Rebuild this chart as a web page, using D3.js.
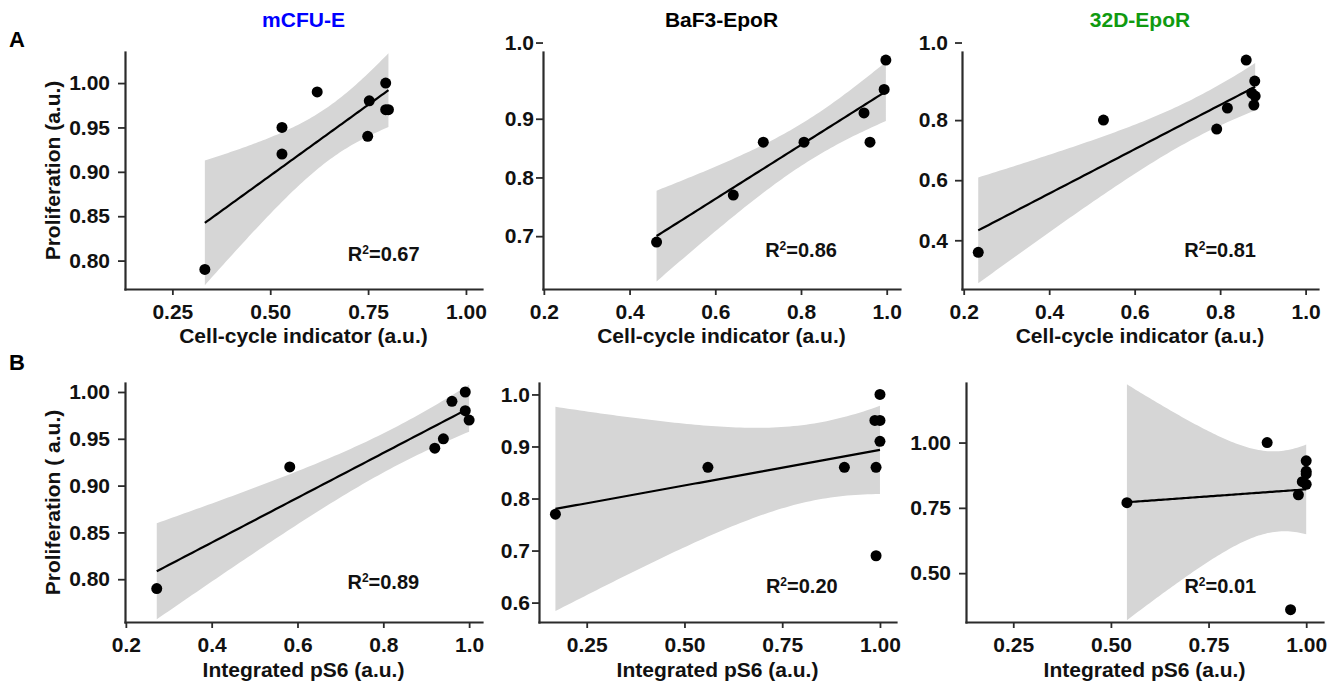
<!DOCTYPE html>
<html>
<head>
<meta charset="utf-8">
<script src="https://cdn.jsdelivr.net/npm/d3@7"></script>
<style>
  body { margin: 0; background: #fff; }
  svg text { font-family: "Liberation Sans", Arial, Helvetica, sans-serif; font-weight: bold; }
</style>
</head>
<body>
<div id="chart"></div>
<script>
// column headers and row letters
var cellLines = ["mCFU-E", "BaF3-EpoR", "32D-EpoR"];
var cellLineColors = ["#0000ff", "#000000", "#109a10"];
var rowLetters = ["A", "B"];
var xTitles = ["Cell-cycle indicator (a.u.)", "Integrated pS6 (a.u.)"];
var yTitles = ["Proliferation (a.u.)", "Proliferation ( a.u.)"];

// row A: cell-cycle indicator vs proliferation
var cycleMcfu = [0.333, 0.530, 0.530, 0.620, 0.753, 0.749, 0.795, 0.795, 0.802];
var prolMcfuA = [0.79, 0.95, 0.92, 0.99, 0.98, 0.94, 1.00, 0.97, 0.97];
var cycleBaf3 = [0.463, 0.642, 0.712, 0.807, 0.947, 0.961, 0.994, 0.998];
var prolBaf3A = [0.69, 0.77, 0.86, 0.86, 0.91, 0.86, 0.95, 1.00];
var cycle32d = [0.234, 0.527, 0.792, 0.817, 0.861, 0.881, 0.874, 0.882, 0.879];
var prol32dA = [0.36, 0.80, 0.77, 0.84, 1.00, 0.93, 0.89, 0.88, 0.85];

// row B: integrated pS6 vs proliferation
var ps6Mcfu = [0.272, 0.582, 0.920, 0.940, 0.960, 0.991, 0.991, 1.000];
var prolMcfuB = [0.79, 0.92, 0.94, 0.95, 0.99, 1.00, 0.98, 0.97];
var ps6Baf3 = [0.170, 0.560, 0.909, 0.990, 0.990, 1.000, 0.987, 1.000, 1.000];
var prolBaf3B = [0.77, 0.86, 0.86, 0.86, 0.69, 1.00, 0.95, 0.95, 0.91];
var ps632d = [0.541, 0.900, 1.000, 1.000, 1.000, 0.990, 1.000, 0.980, 0.960];
var prol32dB = [0.77, 1.00, 0.93, 0.89, 0.88, 0.85, 0.84, 0.80, 0.36];

// R squared labels and where they sit (data units)
var r2Text = ["0.67", "0.86", "0.81", "0.89", "0.20", "0.01"];
var r2X = [0.79, 0.80, 0.80, 0.80, 0.80, 0.78];
var r2Y = [0.807, 0.676, 0.367, 0.797, 0.631, 0.45];

// axis limits and tick labels
var xLimits = [[0.129, 1.041], [0.198, 1.031], [0.196, 1.029], [0.198, 1.030], [0.128, 1.041], [0.129, 1.043]];
var yLimits = [[0.768, 1.035], [0.610, 1.0137], [0.2378, 1.0267], [0.7543, 1.0096], [0.5627, 1.022], [0.313, 1.228]];
var xTicks = [[0.25, 0.5, 0.75, 1], [0.2, 0.4, 0.6, 0.8, 1], [0.2, 0.4, 0.6, 0.8, 1],
              [0.2, 0.4, 0.6, 0.8, 1], [0.25, 0.5, 0.75, 1], [0.25, 0.5, 0.75, 1]];
var yTicks = [[0.8, 0.85, 0.9, 0.95, 1], [0.7, 0.8, 0.9, 1], [0.4, 0.6, 0.8, 1],
              [0.8, 0.85, 0.9, 0.95, 1], [0.6, 0.7, 0.8, 0.9, 1], [0.5, 0.75, 1]];
var xFormats = [".2f", ".1f", ".1f", ".1f", ".2f", ".2f"];
var yFormats = [".2f", ".1f", ".1f", ".2f", ".1f", ".2f"];

var panelX = [cycleMcfu, cycleBaf3, cycle32d, ps6Mcfu, ps6Baf3, ps632d];
var panelY = [prolMcfuA, prolBaf3A, prol32dA, prolMcfuB, prolBaf3B, prol32dB];

// pixel boxes of the six plotting areas
var boxes = [
  {l: 125, r: 482, t: 52, b: 289}, {l: 543, r: 900, t: 52, b: 289}, {l: 962, r: 1318, t: 52, b: 289},
  {l: 125, r: 482, t: 383, b: 622}, {l: 539, r: 896, t: 383, b: 622}, {l: 966, r: 1323, t: 383, b: 622}
];
var yPad = [8, 2, 7, 8, 2, 8];
var liftTop = [0, 17, 17, 0, 0, 0]; // the 1.0 label sits above the axis in two panels

var tTable = {3: 3.182, 4: 2.776, 5: 2.571, 6: 2.447, 7: 2.365, 8: 2.306, 9: 2.262, 10: 2.228, 11: 2.201, 12: 2.179};

function lmBand(xs, ys) {
  var n = xs.length, mx = d3.mean(xs), my = d3.mean(ys);
  var sxx = d3.sum(xs, function(x) { return (x - mx) * (x - mx); });
  var sxy = d3.sum(xs, function(x, i) { return (x - mx) * (ys[i] - my); });
  var b = sxy / sxx, a = my - b * mx;
  var sse = d3.sum(xs, function(x, i) { var e = ys[i] - a - b * x; return e * e; });
  var s = Math.sqrt(sse / (n - 2)), t = tTable[n - 2];
  var lo = d3.min(xs), hi = d3.max(xs);
  return d3.range(80).map(function(i) {
    var x = lo + (hi - lo) * i / 79;
    var f = a + b * x;
    var se = s * Math.sqrt(1 / n + (x - mx) * (x - mx) / sxx);
    return {x: x, fit: f, lo: f - t * se, hi: f + t * se};
  });
}

var svg = d3.select("#chart").append("svg")
    .attr("width", 1341)
    .attr("height", 683);

boxes.forEach(function(box, p) {
  var x = d3.scaleLinear().domain(xLimits[p]).range([box.l, box.r]);
  var y = d3.scaleLinear().domain(yLimits[p]).range([box.b, box.t]);
  var xs = panelX[p], ys = panelY[p];
  var band = lmBand(xs, ys);

  svg.append("clipPath").attr("id", "clip" + p)
    .append("rect")
      .attr("x", box.l).attr("y", box.t)
      .attr("width", box.r - box.l).attr("height", box.b - box.t);

  var g = svg.append("g").attr("clip-path", "url(#clip" + p + ")");

  g.append("path")
    .datum(band)
    .attr("fill", "#d6d6d6")
    .attr("d", d3.area().x(d => x(d.x)).y0(d => y(d.lo)).y1(d => y(d.hi)));

  g.append("path")
    .datum(band)
    .attr("fill", "none")
    .attr("stroke", "#000")
    .attr("stroke-width", 2.2)
    .attr("d", d3.line().x(d => x(d.x)).y(d => y(d.fit)));

  g.selectAll("circle")
    .data(xs)
    .enter().append("circle")
      .attr("cx", d => x(d))
      .attr("cy", (d, i) => y(ys[i]))
      .attr("r", 5.5)
      .attr("fill", "#000");

  var gx = svg.append("g")
    .attr("transform", "translate(0," + box.b + ")")
    .call(d3.axisBottom(x).tickValues(xTicks[p]).tickFormat(d3.format(xFormats[p]))
      .tickSize(6).tickSizeOuter(0).tickPadding(9));

  var gy = svg.append("g")
    .attr("transform", "translate(" + box.l + ",0)")
    .call(d3.axisLeft(y).tickValues(yTicks[p]).tickFormat(d3.format(yFormats[p]))
      .tickSize(7).tickSizeOuter(0).tickPadding(yPad[p]));

  if (liftTop[p]) {
    gy.selectAll(".tick").filter(d => d === 1)
      .attr("transform", d => "translate(0," + (y(d) - liftTop[p]) + ")");
  }

  [gx, gy].forEach(function(ax) {
    ax.select(".domain").attr("stroke", "#2b2b2b").attr("stroke-width", 2.2).attr("stroke-linecap", "square");
    ax.selectAll(".tick line").attr("stroke", "#2b2b2b").attr("stroke-width", 1.8);
    ax.selectAll(".tick text").attr("fill", "#111").style("font-size", "21px");
  });

  var r2 = svg.append("text")
    .attr("x", x(r2X[p]))
    .attr("y", y(r2Y[p]) + 7)
    .attr("text-anchor", "middle")
    .style("font-size", "20px")
    .attr("fill", "#111");
  r2.append("tspan").text("R");
  r2.append("tspan").attr("dy", -7).style("font-size", "12px").text("2");
  r2.append("tspan").attr("dy", 7).text("=" + r2Text[p]);

  var row = Math.floor(p / 3), col = p % 3;
  var cx = (box.l + box.r) / 2;

  svg.append("text")
    .attr("x", cx)
    .attr("y", row === 0 ? 343 : 677)
    .attr("text-anchor", "middle")
    .style("font-size", "21px")
    .attr("fill", "#111")
    .text(xTitles[row]);

  if (row === 0) {
    svg.append("text")
      .attr("x", cx)
      .attr("y", 27)
      .attr("text-anchor", "middle")
      .style("font-size", "21px")
      .attr("fill", cellLineColors[col])
      .text(cellLines[col]);
  }

  if (col === 0) {
    svg.append("text")
      .attr("transform", "translate(60," + ((box.t + box.b) / 2) + ") rotate(-90)")
      .attr("text-anchor", "middle")
      .style("font-size", "21px")
      .attr("fill", "#111")
      .text(yTitles[row]);

    svg.append("text")
      .attr("x", 9)
      .attr("y", row === 0 ? 47 : 370)
      .style("font-size", "22px")
      .attr("fill", "#000")
      .text(rowLetters[row]);
  }
});
</script>
</body>
</html>
